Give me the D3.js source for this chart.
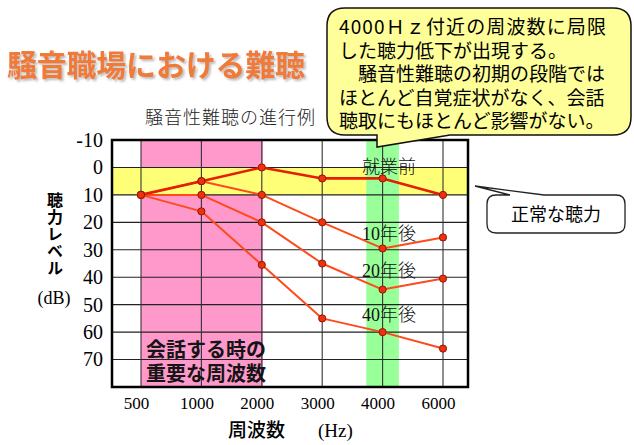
<!DOCTYPE html>
<html><head><meta charset="utf-8">
<script src="https://cdn.jsdelivr.net/npm/d3@7"></script>
<style>
html,body{margin:0;padding:0;background:#fff;}
svg{display:block;}
</style></head>
<body>
<script>
// ---- data ----
const categories = ["500","1000","2000","3000","4000","6000"];
const seriesNames = ["就業前","10年後","20年後","40年後"];
const before = [10, 5, 0, 4, 4, 10];
const after10 = [10, 5, 10, 20, 29.5, 25.5];
const after20 = [10, 10, 20, 35, 44.5, 40.5];
const after40 = [10, 16, 35.5, 55, 60, 66];
const labelLevels = [-0.4, 23.8, 37.4, 53.4];
const yTicks = [-10, 0, 10, 20, 30, 40, 50, 60, 70];
const normalBand = [0, 10];
const speechBand = [0, 2.02];   // category index range
const focusBand = [3.73, 4.27]; // category index range
const calloutLines = ["4000Ｈｚ付近の周波数に局限","した聴力低下が出現する。","　騒音性難聴の初期の段階では","ほとんど自覚症状がなく、会話","聴取にもほとんど影響がない。"];
const speechLines = ["会話する時の","重要な周波数"];

const W = 634, H = 445;
const L = 112, R = 468, T = 140, B = 387;
const svg = d3.select("body").append("svg").attr("width", W).attr("height", H);

const x = d3.scaleLinear().domain([0, categories.length - 1]).range([141, 443]);
const y = d3.scaleLinear().domain([-10, 80]).range([T, B]);

const serif = "'Liberation Serif','Times New Roman','Noto Sans CJK JP',serif";
const sans = "'Noto Sans CJK JP','Noto Sans',sans-serif";

// defs: title shadow
const defs = svg.append("defs");
const f = defs.append("filter").attr("id","sh").attr("x","-5%").attr("y","-20%").attr("width","115%").attr("height","150%");
f.append("feDropShadow").attr("dx",2).attr("dy",2).attr("stdDeviation",1.2).attr("flood-color","#888").attr("flood-opacity",0.55);

// Title
svg.append("text").attr("x", 7).attr("y", 76)
  .attr("font-family", sans).attr("font-weight", "bold").attr("font-size", 30)
  .attr("fill", "#f07a38").attr("filter","url(#sh)")
  .attr("textLength", 298).attr("lengthAdjust","spacing")
  .text("騒音職場における難聴");

// Subtitle
svg.append("text").attr("x", 145).attr("y", 124)
  .attr("font-family", sans).attr("font-weight", 300).attr("font-size", 18)
  .attr("fill", "#222").attr("textLength", 170).attr("lengthAdjust","spacing")
  .text("騒音性難聴の進行例");

// Plot background & bands
const g = svg.append("g");
g.append("rect").attr("x", L).attr("y", T).attr("width", R - L).attr("height", B - T).attr("fill", "#fff");
g.append("rect").attr("x", x(speechBand[0])).attr("y", T).attr("width", x(speechBand[1]) - x(speechBand[0])).attr("height", B - T).attr("fill", "#ff99cc");
g.append("rect").attr("x", L).attr("y", y(normalBand[0])).attr("width", R - L).attr("height", y(normalBand[1]) - y(normalBand[0])).attr("fill", "#ffff77");
g.append("rect").attr("x", x(focusBand[0])).attr("y", T).attr("width", x(focusBand[1]) - x(focusBand[0])).attr("height", B - T).attr("fill", "#99ff99");

// grid
g.selectAll("line.h").data(yTicks.slice(1)).join("line")
  .attr("x1", L).attr("x2", R).attr("y1", d => y(d)).attr("y2", d => y(d))
  .attr("stroke", "#222").attr("stroke-width", 1.1);
g.selectAll("line.v").data(categories).join("line")
  .attr("x1", (d,i) => x(i)).attr("x2", (d,i) => x(i)).attr("y1", T).attr("y2", B)
  .attr("stroke", "#333").attr("stroke-width", 1.1);

// speech text
speechLines.forEach((s, i) => {
  g.append("text").attr("x", 146).attr("y", 357 + i * 24)
    .attr("font-family", sans).attr("font-weight", "bold").attr("font-size", 20).attr("fill", "#151515").text(s);
});

// frame
g.append("rect").attr("x", L).attr("y", T).attr("width", R - L).attr("height", B - T)
  .attr("fill", "none").attr("stroke", "#000").attr("stroke-width", 2.5);

// y axis labels
const yAxis = d3.axisLeft(y).tickValues(yTicks).tickSize(0).tickPadding(9).tickFormat(d => d);
const ya = svg.append("g").attr("transform", `translate(${L},0)`).call(yAxis);
ya.select(".domain").remove();
ya.selectAll("text").attr("font-family", serif).attr("font-size", 20).attr("fill", "#000");

// x axis labels
const xAxis = d3.axisBottom(x).tickValues(d3.range(categories.length)).tickSize(0).tickPadding(10).tickFormat(i => categories[i]);
const xa = svg.append("g").attr("transform", `translate(0,${B})`).call(xAxis);
xa.select(".domain").remove();
xa.selectAll("text").attr("font-family", serif).attr("font-size", 17).attr("fill", "#000").attr("dx", -5);

// axis titles
const xt = svg.append("text").attr("y", 437).attr("font-size", 19).attr("fill", "#000");
xt.append("tspan").attr("x", 228).attr("font-family", sans).attr("font-weight", 500).text("周波数");
xt.append("tspan").attr("x", 318).attr("font-family", serif).attr("font-size", 19).text("(Hz)");

svg.append("text")
  .attr("x", 55).attr("y", 192)
  .style("writing-mode", "vertical-rl")
  .attr("font-family", sans).attr("font-weight", "bold")
  .attr("font-size", 16).attr("letter-spacing", 1).attr("fill", "#000").text("聴力レベル");
svg.append("text").attr("x", 54).attr("y", 304).attr("text-anchor", "middle")
  .attr("font-family", serif).attr("font-size", 18).attr("fill", "#000").text("(dB)");

// series lines
const allSeries = [before, after10, after20, after40];
const colors = ["#e61e00", "#ff4a1c", "#ff4a1c", "#ff4a1c"];
const widths = [2.6, 2, 2, 2];
const line = d3.line().x((d,i) => x(i)).y(d => y(d));
const order = [3, 2, 1, 0];
order.forEach(k => {
  g.append("path").attr("d", line(allSeries[k])).attr("fill", "none")
    .attr("stroke", colors[k]).attr("stroke-width", widths[k]).attr("stroke-linejoin", "round");
});
order.forEach(k => {
  g.selectAll(null).data(allSeries[k]).join("circle")
    .attr("cx", (d,i) => x(i)).attr("cy", d => y(d)).attr("r", 3.6)
    .attr("fill", "#f03010").attr("stroke", "#8a1a00").attr("stroke-width", 1);
});

// series labels
seriesNames.forEach((name, k) => {
  const t = g.append("text").attr("x", 362).attr("y", y(labelLevels[k]) + 7)
    .attr("font-size", 18).attr("fill", "#111");
  const m = name.match(/^(\d*)(.*)$/);
  if (m[1]) t.append("tspan").attr("font-family", serif).text(m[1]);
  t.append("tspan").attr("font-family", sans).attr("font-weight", 300).text(m[2]);
});

// big callout
const cx0 = 327, cy0 = 8, cx1 = 631, cy1 = 135, r = 18;
const tail = [[450, cy1], [377, 147], [377, cy1]];
const p = d3.path();
p.moveTo(cx0 + r, cy0);
p.lineTo(cx1 - r, cy0); p.quadraticCurveTo(cx1, cy0, cx1, cy0 + r);
p.lineTo(cx1, cy1 - r); p.quadraticCurveTo(cx1, cy1, cx1 - r, cy1);
p.lineTo(tail[0][0], tail[0][1]); p.lineTo(tail[1][0], tail[1][1]); p.lineTo(tail[2][0], tail[2][1]);
p.lineTo(cx0 + r, cy1); p.quadraticCurveTo(cx0, cy1, cx0, cy1 - r);
p.lineTo(cx0, cy0 + r); p.quadraticCurveTo(cx0, cy0, cx0 + r, cy0);
p.closePath();
svg.append("path").attr("d", p.toString()).attr("fill", "#ffff99").attr("stroke", "#111").attr("stroke-width", 1.5);
calloutLines.forEach((s, i) => {
  const t = svg.append("text").attr("x", 339).attr("y", 34 + i * 23.6)
    .attr("font-family", sans).attr("font-size", 19).attr("fill", "#000").text(s);
  if (i === 0) t.attr("textLength", 606 - 339).attr("lengthAdjust", "spacing");
});

// normal hearing callout
const nx0 = 487, ny0 = 195, nx1 = 625, ny1 = 233, nr = 9;
const q = d3.path();
q.moveTo(nx0 + nr, ny0);
q.lineTo(510, ny0); q.lineTo(475, 186); q.lineTo(544, ny0);
q.lineTo(nx1 - nr, ny0); q.quadraticCurveTo(nx1, ny0, nx1, ny0 + nr);
q.lineTo(nx1, ny1 - nr); q.quadraticCurveTo(nx1, ny1, nx1 - nr, ny1);
q.lineTo(nx0 + nr, ny1); q.quadraticCurveTo(nx0, ny1, nx0, ny1 - nr);
q.lineTo(nx0, ny0 + nr); q.quadraticCurveTo(nx0, ny0, nx0 + nr, ny0);
q.closePath();
svg.append("path").attr("d", q.toString()).attr("fill", "#fff").attr("stroke", "#222").attr("stroke-width", 1.3);
svg.append("text").attr("x", 556).attr("y", 221).attr("text-anchor", "middle")
  .attr("font-family", sans).attr("font-size", 18).attr("fill", "#000").text("正常な聴力");
</script>
</body></html>
